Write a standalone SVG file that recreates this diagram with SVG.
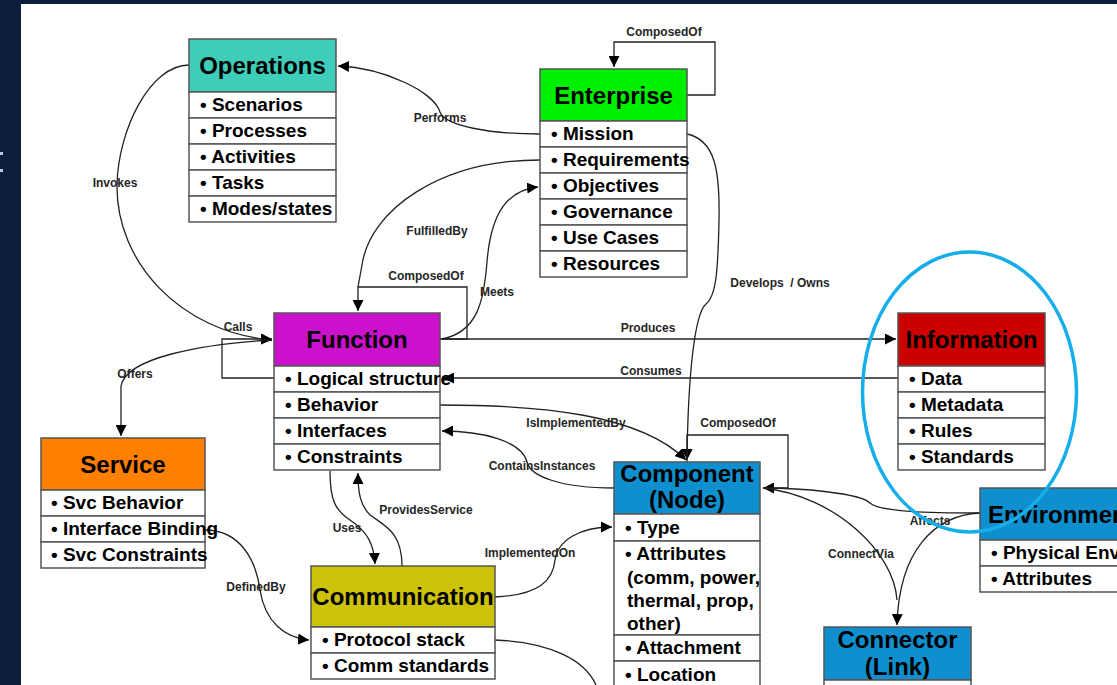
<svg xmlns="http://www.w3.org/2000/svg" width="1117" height="685" viewBox="0 0 1117 685">
<style>
.hdr{stroke:#555;stroke-width:1.5}
.row{fill:#fff;stroke:#555;stroke-width:1.5}
.t{font-family:"Liberation Sans",Arial,sans-serif;font-weight:bold;font-size:24px;fill:#000;text-anchor:middle}
.r{font-family:"Liberation Sans",Arial,sans-serif;font-weight:bold;font-size:19px;fill:#000}
.lbl{font-family:"Liberation Sans",Arial,sans-serif;font-weight:bold;font-size:12px;fill:#262626;text-anchor:middle}
.c{fill:none;stroke:#222;stroke-width:1.3}
.a{marker-end:url(#ah)}
</style>
<defs>
<marker id="ah" viewBox="0 0 10 10" refX="10" refY="5" markerWidth="11" markerHeight="11" markerUnits="userSpaceOnUse" orient="auto"><path d="M0,0 L10,5 L0,10 z" fill="#000"/></marker>
</defs>
<rect x="0" y="0" width="1117" height="685" fill="#0b1e3d"/>
<rect x="21" y="4" width="1096" height="681" fill="#fff"/>
<rect x="0" y="152" width="3" height="3" fill="#b8c8e0"/>
<rect x="0" y="169" width="3" height="3" fill="#b8c8e0"/>

<g id="connectors">
<path class="c a" d="M687,95 L715,95 L715,42 L614,42 L614,67"/>
<path class="c a" d="M540,134 C490,134 445,126 440,112 C434,92 385,68 338,66"/>
<path class="c a" d="M189,65 C150,65 118,130 117,185 C116,262 180,332 272,340"/>
<path class="c a" d="M274,378 L222,378 L222,339 L272,339"/>
<path class="c a" d="M272,340 C200,344 126,358 121,386 L121,436"/>
<path class="c a" d="M440,339 L467,339 L467,287 L358,287 L358,311"/>
<path class="c" d="M540,160 C440,160 370,210 362,265 L358,287"/>
<path class="c a" d="M442,339 C478,332 484,300 487,262 C491,212 508,190 538,187"/>
<path class="c a" d="M687,134 C715,140 720,170 719,220 C718,272 716,296 706,304 C694,314 688,380 687,460"/>
<path class="c a" d="M440,339 L896,339"/>
<path class="c a" d="M898,378 L443,378"/>
<path class="c a" d="M440,405 C540,405 640,414 686,460"/>
<path class="c a" d="M614,488 C560,488 530,476 527,462 C522,441 482,431 442,431"/>
<path class="c a" d="M687,462 L687,435 L788,435 L788,488 L763,488"/>
<path class="c" d="M980,513 C930,513 880,512 870,503 C860,493 800,488 764,488"/>
<path class="c" d="M763,488 C835,496 894,552 897,600"/>
<path class="c a" d="M980,513 C935,515 899,550 897,625"/>
<path class="c a" d="M330,471 C330,500 335,510 350,520 C368,532 374,545 375,564"/>
<path class="c a" d="M402,566 C402,532 385,526 370,515 C360,505 358,492 358,473"/>
<path class="c a" d="M205,530 C240,530 256,560 260,590 C265,622 285,638 309,640"/>
<path class="c a" d="M495,597 C540,595 553,580 555,560 C558,540 580,527 612,527"/>
<path class="c" d="M495,640 C550,642 585,660 596,685"/>
<text class="lbl" x="664" y="36">ComposedOf</text>
<text class="lbl" x="440" y="122">Performs</text>
<text class="lbl" x="437" y="235">FulfilledBy</text>
<text class="lbl" x="426" y="280">ComposedOf</text>
<text class="lbl" x="497" y="296">Meets</text>
<text class="lbl" x="115" y="187">Invokes</text>
<text class="lbl" x="238" y="331">Calls</text>
<text class="lbl" x="135" y="378">Offers</text>
<text class="lbl" x="347" y="532">Uses</text>
<text class="lbl" x="426" y="514">ProvidesService</text>
<text class="lbl" x="256" y="591">DefinedBy</text>
<text class="lbl" x="648" y="332">Produces</text>
<text class="lbl" x="651" y="375">Consumes</text>
<text class="lbl" x="780" y="287" xml:space="preserve">Develops  / Owns</text>
<text class="lbl" x="576" y="427">IsImplementedBy</text>
<text class="lbl" x="738" y="427">ComposedOf</text>
<text class="lbl" x="542" y="470">ContainsInstances</text>
<text class="lbl" x="530" y="557">ImplementedOn</text>
<text class="lbl" x="930" y="525">Affects</text>
<text class="lbl" x="861" y="558">ConnectVia</text>
</g>

<g id="operations">
<rect class="hdr" x="189" y="39" width="147" height="53" fill="#3ecdb8"/>
<text class="t" x="262.5" y="74">Operations</text>
<rect class="row" x="189" y="92" width="147" height="26"/><text class="r" x="200" y="111">• Scenarios</text>
<rect class="row" x="189" y="118" width="147" height="26"/><text class="r" x="200" y="137">• Processes</text>
<rect class="row" x="189" y="144" width="147" height="26"/><text class="r" x="200" y="163">• Activities</text>
<rect class="row" x="189" y="170" width="147" height="26"/><text class="r" x="200" y="189">• Tasks</text>
<rect class="row" x="189" y="196" width="147" height="26"/><text class="r" x="200" y="215">• Modes/states</text>
</g>

<g id="enterprise">
<rect class="hdr" x="540" y="69" width="147" height="52" fill="#00ee00"/>
<text class="t" x="613.5" y="104">Enterprise</text>
<rect class="row" x="540" y="121" width="147" height="26"/><text class="r" x="551" y="140">• Mission</text>
<rect class="row" x="540" y="147" width="147" height="26"/><text class="r" x="551" y="166">• Requirements</text>
<rect class="row" x="540" y="173" width="147" height="26"/><text class="r" x="551" y="192">• Objectives</text>
<rect class="row" x="540" y="199" width="147" height="26"/><text class="r" x="551" y="218">• Governance</text>
<rect class="row" x="540" y="225" width="147" height="26"/><text class="r" x="551" y="244">• Use Cases</text>
<rect class="row" x="540" y="251" width="147" height="26"/><text class="r" x="551" y="270">• Resources</text>
</g>

<g id="function">
<rect class="hdr" x="274" y="313" width="166" height="53" fill="#cc11cc"/>
<text class="t" x="357" y="348">Function</text>
<rect class="row" x="274" y="366" width="166" height="26"/><text class="r" x="285" y="385">• Logical structure</text>
<rect class="row" x="274" y="392" width="166" height="26"/><text class="r" x="285" y="411">• Behavior</text>
<rect class="row" x="274" y="418" width="166" height="26"/><text class="r" x="285" y="437">• Interfaces</text>
<rect class="row" x="274" y="444" width="166" height="26"/><text class="r" x="285" y="463">• Constraints</text>
</g>

<g id="service">
<rect class="hdr" x="41" y="438" width="164" height="52" fill="#ff7f00"/>
<text class="t" x="123" y="473">Service</text>
<rect class="row" x="41" y="490" width="164" height="26"/><text class="r" x="51" y="509">• Svc Behavior</text>
<rect class="row" x="41" y="516" width="164" height="26"/><text class="r" x="51" y="535">• Interface Binding</text>
<rect class="row" x="41" y="542" width="164" height="26"/><text class="r" x="51" y="561">• Svc Constraints</text>
</g>

<g id="information">
<rect class="hdr" x="898" y="313" width="147" height="53" fill="#cc0000"/>
<text class="t" x="971.5" y="348">Information</text>
<rect class="row" x="898" y="366" width="147" height="26"/><text class="r" x="909" y="385">• Data</text>
<rect class="row" x="898" y="392" width="147" height="26"/><text class="r" x="909" y="411">• Metadata</text>
<rect class="row" x="898" y="418" width="147" height="26"/><text class="r" x="909" y="437">• Rules</text>
<rect class="row" x="898" y="444" width="147" height="26"/><text class="r" x="909" y="463">• Standards</text>
</g>

<g id="environment">
<rect class="hdr" x="980" y="488" width="170" height="52" fill="#108fcf"/>
<text class="t" x="988" y="523" style="text-anchor:start">Environment</text>
<rect class="row" x="980" y="540" width="170" height="26"/><text class="r" x="991" y="559">• Physical Env</text>
<rect class="row" x="980" y="566" width="170" height="26"/><text class="r" x="991" y="585">• Attributes</text>
</g>

<g id="component">
<rect class="hdr" x="614" y="462" width="146" height="52" fill="#108fcf"/>
<text class="t" x="687" y="482">Component</text>
<text class="t" x="687" y="508">(Node)</text>
<rect class="row" x="614" y="514" width="146" height="27"/><text class="r" x="625" y="534">• Type</text>
<rect class="row" x="614" y="541" width="146" height="94"/>
<text class="r" x="625" y="560">• Attributes</text>
<text class="r" x="627" y="584">(comm, power,</text>
<text class="r" x="627" y="607">thermal, prop,</text>
<text class="r" x="627" y="630">other)</text>
<rect class="row" x="614" y="635" width="146" height="26"/><text class="r" x="625" y="654">• Attachment</text>
<rect class="row" x="614" y="661" width="146" height="40"/><text class="r" x="625" y="681">• Location</text>
</g>

<g id="communication">
<rect class="hdr" x="311" y="566" width="184" height="61" fill="#ccc20a"/>
<text class="t" x="403" y="605">Communication</text>
<rect class="row" x="311" y="627" width="184" height="26"/><text class="r" x="322" y="646">• Protocol stack</text>
<rect class="row" x="311" y="653" width="184" height="26"/><text class="r" x="322" y="672">• Comm standards</text>
</g>

<g id="connector">
<rect class="hdr" x="824" y="627" width="147" height="53" fill="#108fcf"/>
<text class="t" x="897.5" y="648">Connector</text>
<text class="t" x="897.5" y="675">(Link)</text>
<rect class="row" x="824" y="680" width="147" height="20"/>
</g>

<ellipse id="highlight" cx="969.5" cy="392" rx="107" ry="140" fill="none" stroke="#16aee8" stroke-width="3.5"/>
</svg>
